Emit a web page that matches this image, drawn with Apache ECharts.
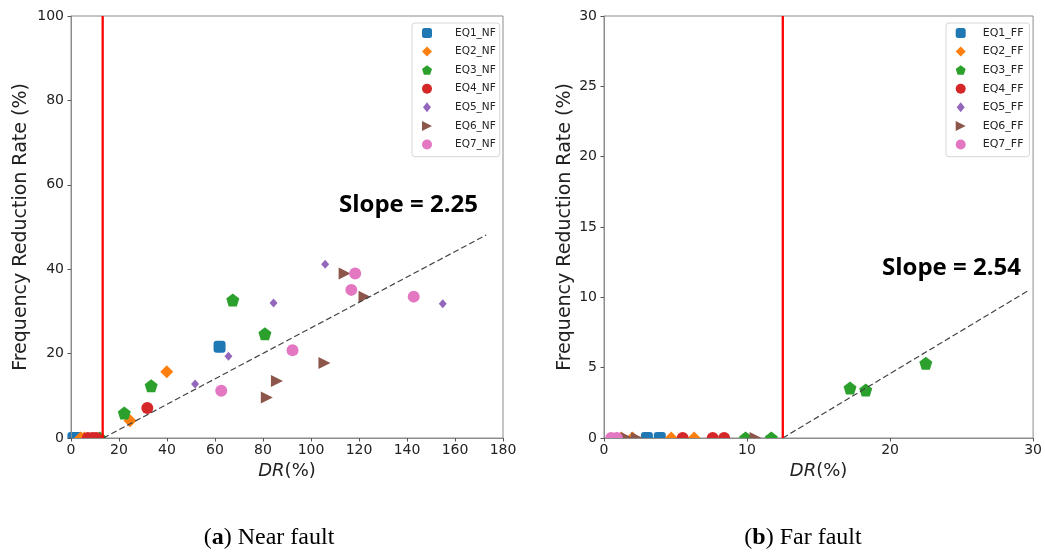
<!DOCTYPE html>
<html><head><meta charset="utf-8">
<script src="https://cdn.jsdelivr.net/npm/echarts@6/dist/echarts.min.js"></script>
<style>html,body{margin:0;padding:0;background:#fff}#c{width:1045px;height:554px}</style>
</head><body><div id="c"></div>
<script>
// ---------------- data ----------------
const nfNames = ['EQ1_NF','EQ2_NF','EQ3_NF','EQ4_NF','EQ5_NF','EQ6_NF','EQ7_NF'];
const ffNames = ['EQ1_FF','EQ2_FF','EQ3_FF','EQ4_FF','EQ5_FF','EQ6_FF','EQ7_FF'];

// Near fault: [DR(%), Frequency Reduction Rate (%)]
const EQ1_NF = [[61.9,21.6],[1.0,0],[2.5,0]];
const EQ2_NF = [[39.9,15.7],[24.6,4.1],[4.0,0],[5.5,0]];
const EQ3_NF = [[67.4,32.7],[80.8,24.7],[33.4,12.4],[22.2,5.9],[12.0,0]];
const EQ4_NF = [[31.8,7.1],[7.0,0],[9.0,0],[10.5,0]];
const EQ5_NF = [[105.9,41.2],[84.4,32.0],[65.6,19.4],[51.7,12.8],[154.9,31.8]];
const EQ6_NF = [[114.0,39.0],[122.3,33.5],[105.6,17.8],[85.8,13.5],[81.6,9.6]];
const EQ7_NF = [[118.4,39.0],[116.8,35.1],[142.8,33.5],[92.3,20.8],[62.6,11.2]];

// Far fault
const EQ1_FF = [[3.0,0],[3.9,0]];
const EQ2_FF = [[1.2,0],[2.0,0],[4.7,0],[6.3,0]];
const EQ3_FF = [[17.2,3.55],[18.3,3.41],[22.5,5.31],[9.9,0],[11.7,0]];
const EQ4_FF = [[5.5,0],[7.6,0],[8.4,0]];
const EQ5_FF = [];
const EQ6_FF = [[1.6,0],[2.3,0],[10.6,0]];
const EQ7_FF = [[0.5,0],[0.9,0]];

// threshold (red) and fitted (dashed) lines
const nfThreshold = [[13.2,0],[13.2,100]];
const nfFit = [[13.5,0],[173,48.1]];
const ffThreshold = [[12.5,0],[12.5,30]];
const ffFit = [[12.5,0],[29.7,10.5]];

const nfSlopeLabel = 'Slope = 2.25';
const ffSlopeLabel = 'Slope = 2.54';
const yAxisTitle = 'Frequency Reduction Rate (%)';
const captionA = ['a', ' Near fault'];
const captionB = ['b', ' Far fault'];

// ---------------- styling ----------------
const colors = ['#1f77b4','#ff7f0e','#2ca02c','#d62728','#9467bd','#8c564b','#e377c2'];
const PENT = 'path://M50,0 L97.6,34.5 L79.4,90.5 L20.6,90.5 L2.4,34.5 Z';
const THIN_D = 'path://M40,0 L80,50 L40,100 L0,50 Z';
const TRI_R = 'path://M0,0 L100,50 L0,100 Z';
const symbols = ['roundRect','diamond',PENT,'circle',THIN_D,TRI_R,'circle'];
const sizes = [12,13,13,12,[8,9],[12,12],12];
const spine = '#8c8c8c';
const FONT = 'DejaVu Sans';

const nfSets = [EQ1_NF,EQ2_NF,EQ3_NF,EQ4_NF,EQ5_NF,EQ6_NF,EQ7_NF];
const ffSets = [EQ1_FF,EQ2_FF,EQ3_FF,EQ4_FF,EQ5_FF,EQ6_FF,EQ7_FF];

function scatterSeries(names, sets, idx) {
  return names.map((n, i) => ({
    type: 'scatter', name: n, data: sets[i], xAxisIndex: idx, yAxisIndex: idx,
    symbol: symbols[i], symbolSize: sizes[i], clip: false,
    itemStyle: { color: colors[i], opacity: 1 }, z: 2
  }));
}
function lineSeries(data, idx, style) {
  return { type: 'line', data: data, xAxisIndex: idx, yAxisIndex: idx, showSymbol: false,
    symbol: 'none', lineStyle: style, z: 3, silent: true, animation: false };
}
function xAxis(idx, max, interval) {
  return { type: 'value', gridIndex: idx, min: 0, max: max, interval: interval, z: 5,
    name: '{i|DR}(%)', nameLocation: 'middle', nameGap: 17,
    nameTextStyle: { fontFamily: FONT, fontSize: 18, color: '#222',
      rich: { i: { fontFamily: FONT, fontSize: 18, fontStyle: 'italic', color: '#222' } } },
    axisLine: { show: true, lineStyle: { color: spine, width: 1 } },
    axisTick: { show: true, length: 3.5, lineStyle: { color: '#555' } },
    axisLabel: { fontFamily: FONT, fontSize: 14, color: '#222', margin: 5 },
    splitLine: { show: false } };
}
function yAxis(idx, max, interval, gap) {
  return { type: 'value', gridIndex: idx, min: 0, max: max, interval: interval, z: 5,
    name: yAxisTitle, nameLocation: 'middle', nameGap: gap,
    nameTextStyle: { fontFamily: FONT, fontSize: 19, color: '#222' },
    axisLine: { show: true, lineStyle: { color: spine, width: 1 } },
    axisTick: { show: true, length: 3.5, lineStyle: { color: '#555' } },
    axisLabel: { fontFamily: FONT, fontSize: 14, color: '#222', margin: 7 },
    splitLine: { show: false } };
}
function legend(names, left, fs, padL, textPad, padR) {
  return { data: names, left: left, top: 23, orient: 'vertical', itemWidth: 10, itemHeight: 10, itemGap: 7.6,
    padding: [4.4, padR, 6.7, padL], borderColor: '#d6d6d6', borderWidth: 1, borderRadius: 3,
    backgroundColor: '#fff', selectedMode: false,
    textStyle: { fontFamily: FONT, fontSize: fs, color: '#222', lineHeight: 10, padding: [0,0,0,textPad] } };
}

const chart = echarts.init(document.getElementById('c'), null, { renderer: 'canvas' });
chart.setOption({
  animation: false,
  backgroundColor: '#fff',
  grid: [
    { left: 71, top: 16, width: 432, height: 422, show: true, borderColor: spine, borderWidth: 1, backgroundColor: 'transparent' },
    { left: 604, top: 16, width: 433, height: 422, show: true, borderColor: spine, borderWidth: 1, backgroundColor: 'transparent' }
  ],
  xAxis: [xAxis(0, 180, 20), xAxis(1, 30, 10)],
  yAxis: [yAxis(0, 100, 20, 40), yAxis(1, 30, 5, 29)],
  legend: [legend(nfNames, 412, 10.5, 10, 18, 4), legend(ffNames, 946, 11, 9.7, 12, 6)],
  series: [
    ...scatterSeries(nfNames, nfSets, 0),
    ...scatterSeries(ffNames, ffSets, 1),
    lineSeries(nfFit, 0, { color: '#444', width: 1.2, type: [6, 3] }),
    lineSeries(ffFit, 1, { color: '#444', width: 1.2, type: [6, 3] }),
    lineSeries(nfThreshold, 0, { color: '#ff0000', width: 2.3 }),
    lineSeries(ffThreshold, 1, { color: '#ff0000', width: 2.3 })
  ],
  graphic: { elements: [
    { type: 'rect', z: 4, silent: true, shape: { x: 60, y: 438.6, width: 450, height: 8 }, style: { fill: '#fff' } },
    { type: 'rect', z: 4, silent: true, shape: { x: 596, y: 438.6, width: 445, height: 8 }, style: { fill: '#fff' } },
    { type: 'text', z: 10, style: { text: nfSlopeLabel, x: 339, y: 205, fontFamily: 'Open Sans', fontWeight: 'bold', fontSize: 24, fill: '#000', align: 'left', verticalAlign: 'middle' } },
    { type: 'text', z: 10, style: { text: ffSlopeLabel, x: 882, y: 268, fontFamily: 'Open Sans', fontWeight: 'bold', fontSize: 24, fill: '#000', align: 'left', verticalAlign: 'middle' } },
    { type: 'text', z: 10, style: { text: '({b|' + captionA[0] + '})' + captionA[1], x: 269, y: 538, align: 'center', verticalAlign: 'middle',
        fontFamily: 'Liberation Serif', fontSize: 24, fill: '#000',
        rich: { b: { fontFamily: 'Liberation Serif', fontSize: 24, fontWeight: 'bold', fill: '#000', color: '#000' } } } },
    { type: 'text', z: 10, style: { text: '({b|' + captionB[0] + '})' + captionB[1], x: 803, y: 538, align: 'center', verticalAlign: 'middle',
        fontFamily: 'Liberation Serif', fontSize: 24, fill: '#000',
        rich: { b: { fontFamily: 'Liberation Serif', fontSize: 24, fontWeight: 'bold', fill: '#000', color: '#000' } } } }
  ] }
});
</script></body></html>
